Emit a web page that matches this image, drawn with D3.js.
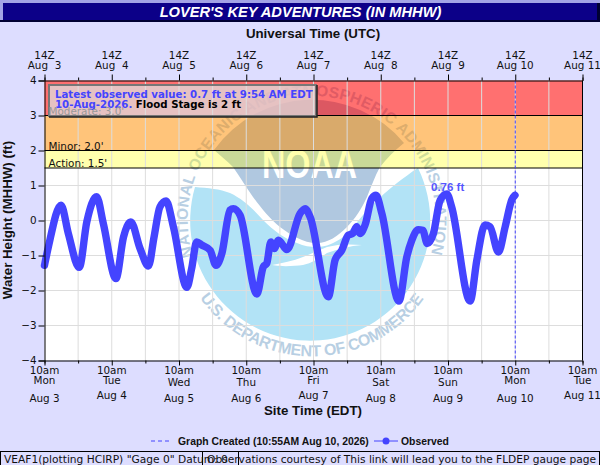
<!DOCTYPE html>
<html>
<head>
<meta charset="utf-8">
<script src="https://cdnjs.cloudflare.com/ajax/libs/d3/7.8.5/d3.min.js"></script>
<style>
html, body { margin: 0; padding: 0; background: #ddddff; overflow: hidden; }
svg { display: block; }
text { font-family: "DejaVu Sans", sans-serif; fill: #111; white-space: pre; }
.bold { font-family: "Liberation Sans", sans-serif; font-weight: bold; }
</style>
</head>
<body>
<svg id="chart" width="600" height="465"></svg>
<script>
// hours after Aug 3 10am EDT
const obsHours = [0, 1.4, 5.9, 8.5, 12.4, 15.1, 18.6, 21, 25.5, 28.2, 30.8, 34.1, 37.1, 39.1, 41.2, 43.4, 46, 50.8, 52.5, 54.3, 56.1, 59.1, 61.2, 63.3, 66.2, 67.4, 69.8, 75.8, 78.1, 79.3, 80.8, 82, 83.5, 86.5, 91.2, 93, 94.8, 101.3, 103.7, 106.1, 108.4, 110, 111.4, 112.6, 114.4, 116.8, 118.3, 120.4, 126.5, 129.3, 131.1, 133.4, 135, 136.6, 138.8, 141.2, 143.6, 145.3, 151.9, 154.3, 157.2, 159, 162, 164.4, 166.8, 167.9];
const obsFeet = [-1.28, -0.75, 0.44, -0.37, -1.34, -0.04, 0.68, -0.09, -1.66, -0.47, -0.04, -0.8, -1.3, -0.47, 0.39, 0.56, -0.18, -1.91, -1.38, -0.61, -0.7, -0.85, -1.28, -0.94, 0.3, 0.34, 0.15, -2.1, -1.32, -1.23, -0.61, -0.8, -0.56, -0.83, 0.2, 0.34, 0.1, -2.18, -1.13, -0.85, -0.42, -0.37, -0.18, -0.37, -0.13, 0.63, 0.72, 0.2, -2.3, -1.04, -0.56, -0.26, -0.28, -0.66, -0.37, 0.58, 0.76, 0.39, -2.3, -1.13, -0.13, -0.18, -0.9, -0.18, 0.6, 0.72];

const yTicks = [-4, -3, -2, -1, 0, 1, 2, 3, 4];
const utcDays = ["Aug  3", "Aug  4", "Aug  5", "Aug  6", "Aug  7", "Aug  8", "Aug  9", "Aug 10", "Aug 11"];
const weekdays = ["Mon", "Tue", "Wed", "Thu", "Fri", "Sat", "Sun", "Mon", "Tue"];
const siteDays = ["Aug 3", "Aug 4", "Aug 5", "Aug 6", "Aug 7", "Aug 8", "Aug 9", "Aug 10", "Aug 11"];

const zones = [
    {from: 3, to: 4, color: "rgba(255,0,0,0.56)"},
    {from: 2, to: 3, color: "rgba(255,141,0,0.52)"},
    {from: 1.5, to: 2, color: "rgba(255,255,0,0.32)"}
];
const stageLabels = [
    {value: 3, text: "Moderate: 3.0'", color: "#999"},
    {value: 2, text: "Minor: 2.0'", color: "#111"},
    {value: 1.5, text: "Action: 1.5'", color: "#111"}
];

const svg = d3.select("#chart");
const blue = "#4444ff";
const tickFont = "10.4px";

const x = d3.scaleLinear().domain([0, 192]).range([44.5, 582.5]);
const y = d3.scaleLinear().domain([-4, 4]).range([360.5, 80.5]);
const dayHours = utcDays.map((d, i) => i * 24);
const halfDayHours = d3.range(0, 193, 12);

// title bar
svg.append("rect").attr("width", 600).attr("height", 3).attr("fill", "#a3a3e6");
svg.append("rect").attr("y", 3).attr("width", 3).attr("height", 18).attr("fill", "#a3a3e6");
svg.append("rect").attr("x", 3).attr("y", 3).attr("width", 594).attr("height", 17).attr("fill", "#0c0088");
svg.append("rect").attr("y", 20).attr("width", 600).attr("height", 2).attr("fill", "#000033");
svg.append("rect").attr("x", 597).attr("y", 3).attr("width", 3).attr("height", 19).attr("fill", "#000033");
svg.append("text").attr("class", "bold").attr("x", 300.5).attr("y", 17)
    .attr("text-anchor", "middle").style("font-size", "14.65px").style("font-style", "italic").style("fill", "#fff")
    .text("LOVER'S KEY ADVENTURES (IN MHHW)");

// plot background
svg.append("rect").attr("x", x(0)).attr("y", y(4))
    .attr("width", x(192) - x(0)).attr("height", y(-4) - y(4)).attr("fill", "#fff");

// NOAA watermark
const logo = svg.append("g");
const cx = 312, cy = 220;
logo.append("path").attr("fill", "#b2e3f6")
    .attr("d", "M195,187 C208,188 220,189 230,193 C243,199 253,209 263,220 C274,231 285,239 297,243 C304,246 310,247 317,247 C326,247 335,243 343,237 C352,229 361,217 370,207 C379,198 388,190 397,183 C404,178 411,172 418,168 A120,120 0 1 1 195,187 Z");
logo.append("path").attr("fill", "#b0c8e0")
    .attr("d", "M214,150 A120,120 0 0 1 404,143 C395,150 387,158 380,167 C375,176 371,187 367,197 C362,208 355,219 347,227 C338,236 328,243 317,243 C303,243 291,235 280,227 C270,219 261,208 253,197 C246,187 240,177 233,167 C227,161 220,155 214,150 Z");
logo.append("path").attr("fill", "#fff")
    .attr("d", "M272,265 C283,267 294,266 303,265 C312,263 320,258 327,253 C338,249 350,246 362,245 C350,244 338,244 327,247 C319,250 311,254 303,257 C293,261 282,263 272,265 Z");
logo.append("text").attr("class", "bold").attr("x", 309.5).attr("y", 178)
    .attr("text-anchor", "middle").attr("textLength", 95).attr("lengthAdjust", "spacingAndGlyphs")
    .style("font-size", "41px").style("fill", "#fff").text("NOAA");

// arcs run on past the end of the text so the last letters are not dropped
logo.append("path").attr("id", "arcTop").attr("fill", "none")
    .attr("d", `M${cx - 119},${cy + 36} A124,124 0 1 1 ${cx + 107},${cy + 62}`);
logo.append("path").attr("id", "arcBottom").attr("fill", "none")
    .attr("d", `M${cx - 112},${cy + 78} A137,137 0 0 0 ${cx + 130},${cy + 43}`);
logo.append("text").attr("class", "bold").style("font-size", "15.5px").style("fill", "#b8cfe3")
    .append("textPath").attr("href", "#arcTop").attr("textLength", 460)
    .text("NATIONAL OCEANIC AND ATMOSPHERIC ADMINISTRATION");
logo.append("text").attr("class", "bold").style("font-size", "16px").style("fill", "#b8cfe3")
    .append("textPath").attr("href", "#arcBottom").attr("textLength", 262)
    .text("U.S. DEPARTMENT OF COMMERCE");

// flood zones
svg.selectAll(".zone").data(zones).enter().append("rect")
    .attr("class", "zone")
    .attr("x", x(0)).attr("width", x(192) - x(0))
    .attr("y", d => y(d.to)).attr("height", d => y(d.from) - y(d.to))
    .attr("fill", d => d.color);

// grid
svg.selectAll(".vgrid").data(halfDayHours.slice(1, -1)).enter().append("line")
    .attr("class", "vgrid")
    .attr("x1", d => x(d)).attr("x2", d => x(d))
    .attr("y1", y(4)).attr("y2", y(-4))
    .attr("stroke", "#ddd").attr("stroke-width", 1);
svg.selectAll(".hgrid").data(yTicks.slice(1, -1)).enter().append("line")
    .attr("class", "hgrid")
    .attr("x1", x(0)).attr("x2", x(192))
    .attr("y1", d => y(d)).attr("y2", d => y(d))
    .attr("stroke", "#ddd").attr("stroke-width", 1);

// stage lines
svg.selectAll(".stage").data(stageLabels).enter().append("line")
    .attr("class", "stage")
    .attr("x1", x(0)).attr("x2", x(192))
    .attr("y1", d => y(d.value)).attr("y2", d => y(d.value))
    .attr("stroke", "#000");

// graph created marker
svg.append("line").attr("x1", x(168)).attr("x2", x(168))
    .attr("y1", y(4)).attr("y2", y(-4))
    .attr("stroke", blue).attr("stroke-dasharray", "3,2");

// observed line
const line = d3.line()
    .x((d, i) => x(obsHours[i]))
    .y(d => y(d))
    .curve(d3.curveMonotoneX);
svg.append("path").datum(obsFeet)
    .attr("d", line)
    .attr("fill", "none")
    .attr("stroke", blue)
    .attr("stroke-width", 7.4)
    .attr("stroke-linejoin", "round")
    .attr("stroke-linecap", "round");

svg.append("text").attr("class", "bold").attr("x", 431).attr("y", 191)
    .style("font-size", "11.5px").style("fill", "#5555ff")
    .text("0.76 ft");

// axes
const axisTop = d3.axisTop(x).tickValues(halfDayHours)
    .tickSize(3).tickFormat("");
const axisBottom = d3.axisBottom(x).tickValues(halfDayHours)
    .tickSize(3).tickFormat("");
const axisLeft = d3.axisLeft(y).tickValues(yTicks).tickSize(6).tickFormat(d3.format("d"));

svg.append("g").attr("transform", `translate(0,${y(4)})`).call(axisTop)
    .call(g => g.selectAll(".tick line").attr("y2", d => d % 24 === 0 ? -6 : -3));
svg.append("g").attr("transform", `translate(0,${y(-4)})`).call(axisBottom)
    .call(g => g.selectAll(".tick line").attr("y2", d => d % 24 === 0 ? 5 : 3));
svg.append("g").attr("transform", `translate(${x(0)},0)`).call(axisLeft)
    .call(g => g.selectAll("text")
        .style("font-family", "'DejaVu Sans', sans-serif").style("font-size", tickFont).attr("x", -8));
svg.append("line").attr("x1", x(192)).attr("x2", x(192)).attr("y1", y(4)).attr("y2", y(-4)).attr("stroke", "#000");

svg.selectAll("g path.domain, g .tick line").attr("stroke", "#000");

// top labels
svg.selectAll(".z").data(dayHours).enter().append("text")
    .attr("class", "z").attr("x", d => x(d)).attr("y", 58.5)
    .attr("text-anchor", "middle").style("font-size", tickFont).text("14Z");
svg.selectAll(".utc").data(utcDays).enter().append("text")
    .attr("class", "utc").attr("x", (d, i) => x(dayHours[i])).attr("y", 68.5)
    .attr("text-anchor", "middle").style("font-size", tickFont).text(d => d);

// bottom labels, the short weekday names sit a bit higher
const raised = d => ["Mon", "Tue", "Fri"].includes(d);
svg.selectAll(".ampm").data(dayHours).enter().append("text")
    .attr("class", "ampm").attr("x", d => x(d)).attr("y", 374)
    .attr("text-anchor", "middle").style("font-size", tickFont).text("10am");
svg.selectAll(".wday").data(weekdays).enter().append("text")
    .attr("class", "wday").attr("x", (d, i) => x(dayHours[i]))
    .attr("y", d => raised(d) ? 384 : 386)
    .attr("text-anchor", "middle").style("font-size", tickFont).text(d => d);
svg.selectAll(".sday").data(siteDays).enter().append("text")
    .attr("class", "sday").attr("x", (d, i) => x(dayHours[i]))
    .attr("y", (d, i) => (weekdays[i] === "Tue" || weekdays[i] === "Fri") ? 399 : 402)
    .attr("text-anchor", "middle").style("font-size", tickFont).text(d => d);

// axis titles
svg.append("text").attr("class", "bold").attr("x", 313).attr("y", 38)
    .attr("text-anchor", "middle").style("font-size", "13.3px").text("Universal Time (UTC)");
svg.append("text").attr("class", "bold").attr("x", 313).attr("y", 415)
    .attr("text-anchor", "middle").style("font-size", "13.3px").text("Site Time (EDT)");
svg.append("text").attr("class", "bold")
    .attr("transform", "translate(12,220) rotate(-90)")
    .attr("text-anchor", "middle").style("font-size", "13.3px").text("Water Height (MHHW) (ft)");

// latest value box
svg.append("rect").attr("x", 49).attr("y", 85).attr("width", 267).attr("height", 31)
    .attr("fill", "rgba(221,221,221,0.75)").attr("stroke", "#777").attr("stroke-width", 2);
svg.append("path").attr("d", "M317,85 V117 H49").attr("fill", "none").attr("stroke", "#222").attr("stroke-width", 1.5);
svg.append("text").attr("x", 55).attr("y", 98)
    .style("font-size", "10.2px").style("font-weight", "bold").style("fill", blue)
    .text("Latest observed value: 0.7 ft at 9:54 AM EDT");
const boxLine = svg.append("text").attr("x", 55).attr("y", 108)
    .style("font-size", "10.2px").style("font-weight", "bold");
boxLine.append("tspan").style("fill", blue).text("10-Aug-2026.");
boxLine.append("tspan").style("fill", "#000").text(" Flood Stage is 2 ft");

// stage labels go over the box
svg.selectAll(".stageLabel").data(stageLabels).enter().append("text")
    .attr("class", "stageLabel")
    .attr("x", 48.5).attr("y", d => y(d.value) - 1)
    .style("font-size", tickFont).style("fill", d => d.color)
    .text(d => d.text);

// legend
svg.append("line").attr("x1", 151).attr("x2", 172).attr("y1", 441).attr("y2", 441)
    .attr("stroke", blue).attr("stroke-dasharray", "4,3");
svg.append("text").attr("class", "bold").attr("x", 178).attr("y", 444.5)
    .style("font-size", "10.4px").text("Graph Created (10:55AM Aug 10, 2026)");
svg.append("line").attr("x1", 374).attr("x2", 398).attr("y1", 441).attr("y2", 441).attr("stroke", blue);
svg.append("circle").attr("cx", 386).attr("cy", 441).attr("r", 3.5).attr("fill", blue);
svg.append("text").attr("class", "bold").attr("x", 401).attr("y", 444.5)
    .style("font-size", "10.4px").text("Observed");

// footer boxes
svg.append("rect").attr("x", 0.5).attr("y", 451.5).attr("width", 599).attr("height", 20)
    .attr("fill", "none").attr("stroke", "#000");
svg.append("line").attr("x1", 202.5).attr("x2", 202.5).attr("y1", 451).attr("y2", 465).attr("stroke", "#000");
svg.append("line").attr("x1", 238.5).attr("x2", 238.5).attr("y1", 451).attr("y2", 465).attr("stroke", "#000");
svg.append("text").attr("x", 4).attr("y", 463).style("font-size", "10.65px")
    .text('VEAF1(plotting HCIRP) "Gage 0" Datum: 0');
svg.append("text").attr("x", 207).attr("y", 463).style("font-size", "10.65px")
    .text("Observations courtesy of This link will lead you to the FLDEP gauge page");
</script>
</body>
</html>
